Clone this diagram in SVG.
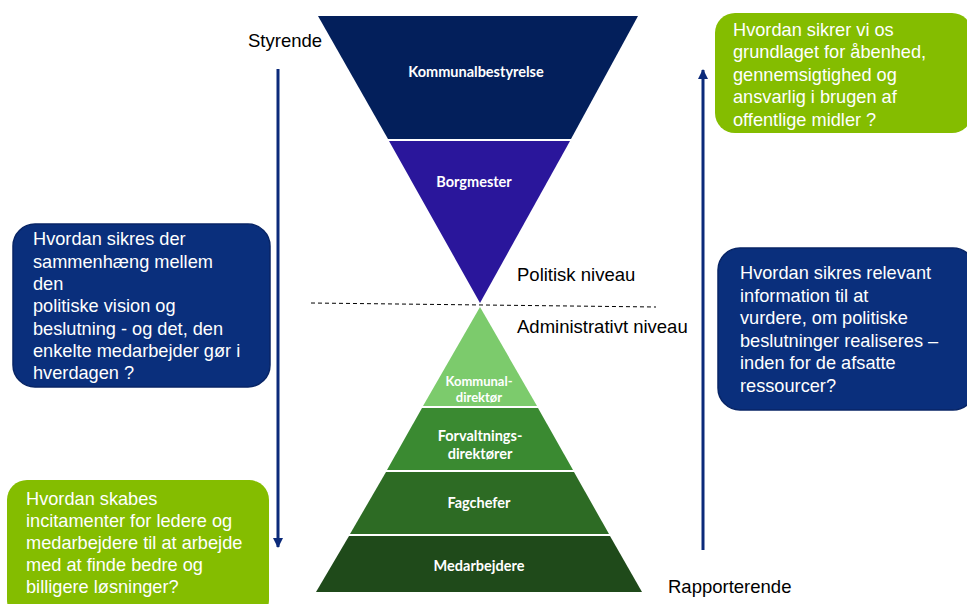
<svg xmlns="http://www.w3.org/2000/svg" width="967" height="604" viewBox="0 0 967 604">
  <defs>
    <marker id="arrowHead" viewBox="0 0 10 10" refX="9" refY="5" markerWidth="10" markerHeight="10" markerUnits="userSpaceOnUse" orient="auto">
      <path d="M0,0 L10,5 L0,10 Z" fill="#0B2A7A"/>
    </marker>
  </defs>
  <style>
    .lvl { font-family: Lato, "Open Sans", sans-serif; font-weight: bold; font-size: 14.5px; fill: #FFFFFF; text-anchor: middle; }
    .side { font-family: "Liberation Sans", Arial, sans-serif; font-size: 18.5px; fill: #000000; }
    .q { font-family: "Liberation Sans", Arial, sans-serif; font-size: 18.2px; fill: #FFFFFF; }
    .blueBox { fill: #0A2F7C; stroke: #082566; stroke-width: 1.5; }
    .greenBox { fill: #84BD00; }
    .flow { stroke: #0B2A7A; stroke-width: 3; fill: none; }
  </style>

  <rect width="967" height="604" fill="#FFFFFF"/>

  <!-- political level: inverted triangle -->
  <g id="kommunalbestyrelse">
    <polygon points="318,16 638,16 571,139 388,139" fill="#031F5B"/>
    <text class="lvl" x="476" y="77">Kommunalbestyrelse</text>
  </g>
  <g id="borgmester">
    <polygon points="389,141 570,141 480,303" fill="#2A169B"/>
    <text class="lvl" x="474" y="187">Borgmester</text>
  </g>

  <!-- administrative level: pyramid -->
  <g id="kommunaldirektoer">
    <polygon points="480,307 537,406 423,406" fill="#7CCB6C"/>
    <text class="lvl" x="479" y="386" style="font-size:13px">Kommunal-</text>
    <text class="lvl" x="479" y="402" style="font-size:13px">direktør</text>
  </g>
  <g id="forvaltningsdirektoer">
    <polygon points="422,408 538,408 573,470 387,470" fill="#3A8A31"/>
    <text class="lvl" x="480" y="441">Forvaltnings-</text>
    <text class="lvl" x="480" y="459">direktører</text>
  </g>
  <g id="fagchefer">
    <polygon points="386,472 574,472 609,534 350,534" fill="#2D6B24"/>
    <text class="lvl" x="479" y="508">Fagchefer</text>
  </g>
  <g id="medarbejdere">
    <polygon points="349,536 610,536 642,592 316,592" fill="#1F4A1A"/>
    <text class="lvl" x="479" y="571">Medarbejdere</text>
  </g>

  <!-- side labels -->
  <g id="labels">
    <text class="side" x="248" y="47">Styrende</text>
    <text class="side" x="517" y="281">Politisk niveau</text>
    <text class="side" x="517" y="333">Administrativt niveau</text>
    <text class="side" x="668" y="593">Rapporterende</text>
  </g>

  <!-- connectors -->
  <g id="connectors">
    <line x1="311" y1="303" x2="656" y2="307" stroke="#000000" stroke-width="1" stroke-dasharray="4 3"/>
    <line class="flow" x1="278" y1="69" x2="278" y2="547" marker-end="url(#arrowHead)"/>
    <line class="flow" x1="703" y1="550" x2="703" y2="70" marker-end="url(#arrowHead)"/>
  </g>

  <!-- question boxes -->
  <g id="q-sammenhaeng">
    <rect class="blueBox" x="13" y="224" width="257" height="163" rx="22"/>
    <text class="q" x="33" y="245">Hvordan sikres der</text>
    <text class="q" x="33" y="267.5">sammenhæng mellem</text>
    <text class="q" x="33" y="290">den</text>
    <text class="q" x="33" y="312">politiske vision og</text>
    <text class="q" x="33" y="335">beslutning - og det, den</text>
    <text class="q" x="33" y="357">enkelte medarbejder gør i</text>
    <text class="q" x="33" y="379">hverdagen ?</text>
  </g>
  <g id="q-incitamenter">
    <rect class="greenBox" x="7" y="480" width="262" height="140" rx="20"/>
    <text class="q" x="26" y="505">Hvordan skabes</text>
    <text class="q" x="26" y="527">incitamenter for ledere og</text>
    <text class="q" x="26" y="549">medarbejdere til at arbejde</text>
    <text class="q" x="26" y="571">med at finde bedre og</text>
    <text class="q" x="26" y="593">billigere løsninger?</text>
  </g>
  <g id="q-aabenhed">
    <rect class="greenBox" x="715" y="13" width="257" height="120" rx="20"/>
    <text class="q" x="733" y="36">Hvordan sikrer vi os</text>
    <text class="q" x="733" y="58">grundlaget for åbenhed,</text>
    <text class="q" x="733" y="81">gennemsigtighed og</text>
    <text class="q" x="733" y="103">ansvarlig i brugen af</text>
    <text class="q" x="733" y="126">offentlige midler ?</text>
  </g>
  <g id="q-information">
    <rect class="blueBox" x="718" y="248" width="257" height="162" rx="22"/>
    <text class="q" x="740" y="279">Hvordan sikres relevant</text>
    <text class="q" x="740" y="302">information til at</text>
    <text class="q" x="740" y="324">vurdere, om politiske</text>
    <text class="q" x="740" y="347">beslutninger realiseres –</text>
    <text class="q" x="740" y="369">inden for de afsatte</text>
    <text class="q" x="740" y="392">ressourcer?</text>
  </g>
</svg>
